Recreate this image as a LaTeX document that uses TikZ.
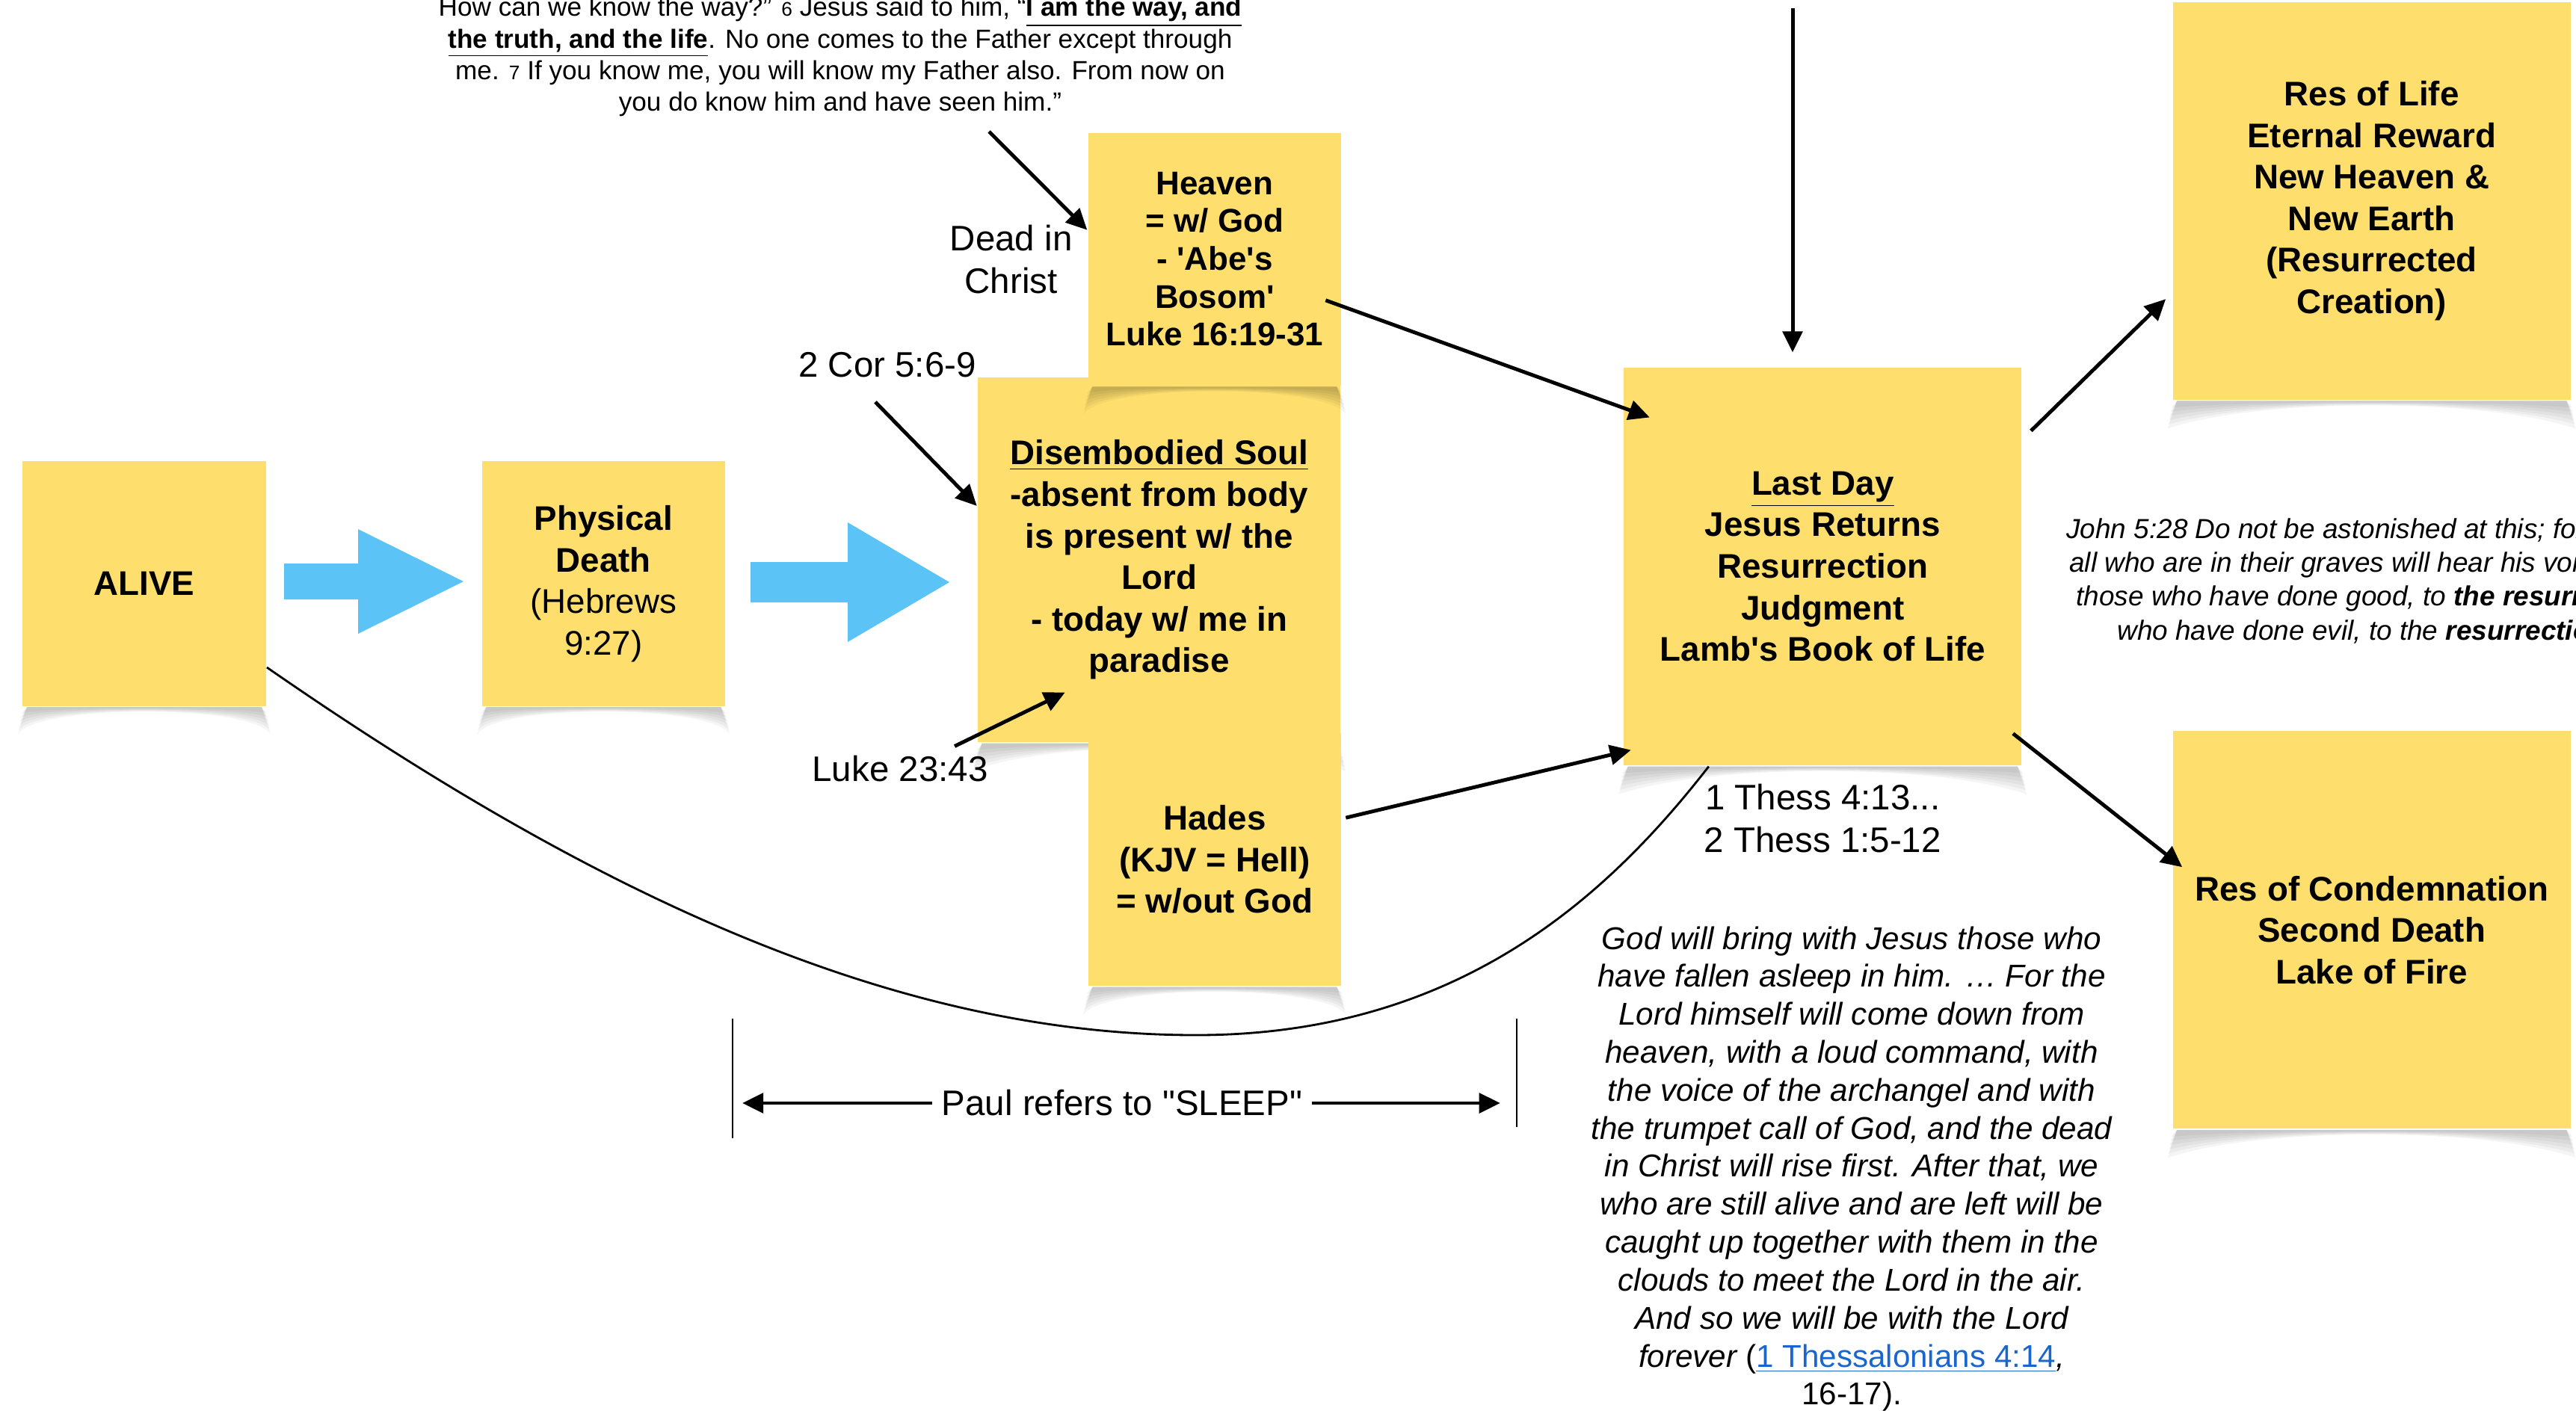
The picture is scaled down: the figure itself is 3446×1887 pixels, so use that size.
\documentclass[tikz,border=0pt]{standalone}
\usepackage{fontspec}
\setmainfont{Liberation Sans}[Ligatures=TeXOff]
\usetikzlibrary{arrows.meta, positioning}

\definecolor{stickyYellow}{RGB}{254,223,110}
\definecolor{arrowBlue}{RGB}{91,195,245}
\definecolor{linkBlue}{RGB}{26,102,204}

% Sombra curvada bajo cada nota
\newcommand{\stickyShadow}[1]{%
  \foreach \k in {1,...,6}{
    \fill[black, opacity=0.04] ([xshift=2pt]#1.south west) -- ([xshift=-2pt]#1.south east)
      -- ([xshift={\k*0.25pt}, yshift={-\k*1.6pt-1pt}]#1.south east)
      .. controls ([xshift=1.5cm, yshift={\k*0.2pt}]#1.south) and ([xshift=-1.5cm, yshift={\k*0.2pt}]#1.south) ..
      ([xshift={-\k*0.25pt}, yshift={-\k*1.6pt-1pt}]#1.south west) -- cycle;
  }}

\begin{document}
\begin{tikzpicture}[x=0.01cm, y=0.01cm, >={Triangle[length=8pt,width=7.5pt]}, thick]
        % Estilos para las notas, textos y conexiones
        \tikzstyle{sticky} = [fill=stickyYellow, align=center, inner sep=2pt, font=\fontsize{13}{15.8}\selectfont\bfseries]
        \tikzstyle{smallNote} = [sticky, minimum width=3.25cm, minimum height=3.27cm]
        \tikzstyle{midNote} = [sticky, minimum width=3.38cm, minimum height=3.38cm]
        \tikzstyle{bigNote} = [sticky, minimum width=4.85cm, minimum height=4.88cm]
        \tikzstyle{largeNote} = [sticky, minimum width=5.32cm, minimum height=5.32cm]
        \tikzstyle{refText} = [align=center, font=\fontsize{13.5}{16.2}\selectfont]
        \tikzstyle{verseText} = [align=center, font=\fontsize{12}{14.45}\selectfont\itshape]
        \tikzstyle{conn} = [line width=1.4pt]
        \tikzstyle{bigArrow} = [fill=arrowBlue]

        \useasboundingbox (0,0) rectangle (3446,-1887);

        % Notas
        \node[smallNote] at (193,-781) (alive) {ALIVE};
        \stickyShadow{alive}
        \node[smallNote, on grid, right=6.14cm of alive] (phys) {Physical\\Death\\\mdseries(Hebrews\\\mdseries 9:27)};
        \stickyShadow{phys}
        \node[bigNote, on grid, above right=0.32cm and 7.43cm of phys] (soul) {\underline{Disembodied Soul}\\-absent from body\\is present w/ the\\Lord\\- today w/ me in\\paradise};
        \stickyShadow{soul}
        \node[midNote, font=\fontsize{12.5}{14.4}\selectfont\bfseries, on grid, above right=4.02cm and 0.74cm of soul] (heaven) {Heaven\\= w/ God\\- 'Abe's\\Bosom'\\Luke 16:19-31};
        \stickyShadow{heaven}
        \node[midNote, on grid, below=8.03cm of heaven] (hades) {Hades\\(KJV = Hell)\\= w/out God};
        \stickyShadow{hades}
        \node[largeNote, on grid, below right=0.09cm and 8.87cm of soul] (lastDay) {\underline{Last Day}\\Jesus Returns\\Resurrection\\Judgment\\Lamb's Book of Life};
        \stickyShadow{lastDay}
        \node[largeNote, on grid, above right=4.89cm and 7.34cm of lastDay] (resLife) {Res of Life\\Eternal Reward\\New Heaven \&\\New Earth\\(Resurrected\\Creation)};
        \stickyShadow{resLife}
        \node[largeNote, on grid, below=9.75cm of resLife] (resCond) {Res of Condemnation\\Second Death\\Lake of Fire};
        \stickyShadow{resCond}

        % Flechas azules
        \fill[bigArrow] (380,-754) -- (479,-754) -- (479,-708) -- (620,-778) -- (479,-848) -- (479,-802) -- (380,-802) -- cycle;
        \fill[bigArrow] (1004,-752) -- (1134,-752) -- (1134,-699) -- (1270,-779) -- (1134,-859) -- (1134,-806) -- (1004,-806) -- cycle;

        % Textos
        \node[refText, on grid, left=2.72cm of heaven] (deadIn) {Dead in\\Christ};
        \node[refText] at (1187,-488) (cor) {2 Cor 5:6-9};
        \node[refText] at (1204,-1029) (luke) {Luke 23:43};
        \node[refText, on grid, below=3.37cm of lastDay] (thess) {1 Thess 4:13...\\2 Thess 1:5-12};
        \node[refText] at (1501,-1476) (sleep) {Paul refers to "SLEEP"};
        \node[align=center, font=\fontsize{10}{12}\selectfont] at (1124,-76) (john14) {How can we know the way?” {\fontsize{7.5}{12}\selectfont 6} Jesus said to him, “\textbf{\underline{I am the way, and}}\\\textbf{\underline{the truth, and the life}}. No one comes to the Father except through\\me. {\fontsize{7.5}{12}\selectfont 7} If you know me, you will know my Father also. From now on\\you do know him and have seen him.”};
        \node[verseText] at (2477,-1564) (thessVerse) {God will bring with Jesus those who\\have fallen asleep in him. … For the\\Lord himself will come down from\\heaven, with a loud command, with\\the voice of the archangel and with\\the trumpet call of God, and the dead\\in Christ will rise first. After that, we\\who are still alive and are left will be\\caught up together with them in the\\clouds to meet the Lord in the air.\\And so we will be with the Lord\\forever {\upshape(\textcolor{linkBlue}{\underline{1 Thessalonians 4:14}}},\\\upshape 16-17).};
        \node[verseText, align=left, anchor=north west, inner sep=0pt, font=\fontsize{10.5}{12.9}\selectfont\itshape] at (2763,-692) (john5) {John 5:28 Do not be astonished at this; for\\\hspace*{0.04cm}all who are in their graves will hear his voice\\\hspace*{0.13cm}those who have done good, to \textbf{the resurrection}\\\hspace*{0.68cm}who have done evil, to the \textbf{resurrection}};

        % Puntos libres
        \coordinate (topIn) at (2398,-11);
        \coordinate (quoteOut) at (1323,-176);
        \coordinate (barLeft) at (980,-1363);
        \coordinate (barRight) at (2029,-1363);

        % Conexiones
        \draw[conn,->] (quoteOut) -- ([yshift=0.39cm]heaven.west);
        \draw[conn,->] ([xshift=-0.16cm,yshift=-0.2cm]cor.south) -- ([yshift=0.72cm]soul.west);
        \draw[conn,->] ([xshift=0.73cm]luke.north) -- ([xshift=-1.26cm,yshift=0.68cm]soul.south);
        \draw[conn,->] ([xshift=-0.22cm,yshift=-0.55cm]heaven.east) -- ([xshift=0.36cm,yshift=-0.68cm]lastDay.north west);
        \draw[conn,->] ([xshift=0.05cm,yshift=0.56cm]hades.east) -- ([xshift=0.11cm,yshift=0.22cm]lastDay.south west);
        \draw[conn,->, shorten >=5.4pt] (topIn) -- (topIn |- lastDay.north);
        \draw[conn,->] ([xshift=0.11cm,yshift=-0.86cm]lastDay.north east) -- ([xshift=-0.08cm,yshift=1.36cm]resLife.south west);
        \draw[conn,->] ([xshift=-0.13cm,yshift=0.44cm]lastDay.south east) -- ([xshift=0.14cm,yshift=0.84cm]resCond.west);
        \draw[line width=0.8pt] ([yshift=0.53cm]alive.south east) .. controls (800,-1200) and (1200,-1385) .. (1600,-1385) .. controls (1950,-1385) and (2150,-1200) .. ([xshift=1.15cm]lastDay.south west);
        \draw[line width=0.6pt] (barLeft) -- ++(0,-160);
        \draw[line width=0.6pt] (barRight) -- ++(0,-145);
        \draw[conn,->, shorten >=3.7pt] (sleep.west) -- (sleep.west -| barLeft);
        \draw[conn,->, shorten >=6.3pt] (sleep.east) -- (sleep.east -| barRight);
\end{tikzpicture}
\end{document}
